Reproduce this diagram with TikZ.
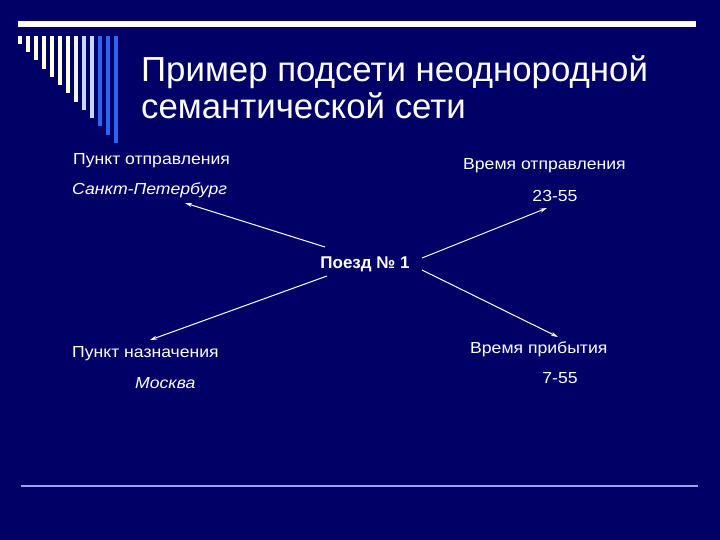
\documentclass[tikz,border=0pt]{standalone}
\usepackage{fontspec}
\setmainfont{Liberation Sans}
\newfontfamily\widesans[FakeStretch=1.1]{Liberation Sans}
\usepackage{tikz}
\usetikzlibrary{arrows.meta, positioning}
\definecolor{mynavy}{RGB}{0, 0, 102}
\definecolor{mycream}{RGB}{255, 255, 225}
\definecolor{mywhite}{RGB}{240, 244, 255}
\definecolor{mypale}{RGB}{200, 215, 255}
\definecolor{myblue}{RGB}{45, 100, 240}
\definecolor{mylilac}{RGB}{160, 160, 240}

\begin{document}
\begin{tikzpicture}[x=1pt, y=-1pt,
    label/.style={text=white, inner sep=0pt, font=\widesans\fontsize{16}{19}\selectfont},
    link/.style={white, line width=1pt, -{Stealth[length=7pt, width=4pt]}}]
    % фон слайда
    \fill[mynavy] (0,0) rectangle (720,540);
    \useasboundingbox (0,0) rectangle (720,540);

    % полосы в углу
    \fill[white] (18,21) rectangle (696,27);
    \foreach \i/\c in {0/mycream, 1/mycream, 2/mycream, 3/mycream, 4/mycream, 5/mycream, 6/mycream,
                       7/mywhite, 8/mypale, 9/mypale, 10/myblue, 11/myblue, 12/myblue}
        \fill[\c] (18+8*\i, 36) rectangle (21.5+8*\i, 44+8.25*\i);

    % заголовок
    \node[anchor=base west, text=white, inner sep=0pt, font=\fontsize{34.8}{38}\selectfont] (title) at (141,82) {Пример подсети неоднородной};
    \node[anchor=base west, text=white, inner sep=0pt, font=\fontsize{34.8}{38}\selectfont] (title2) at (141,119) {семантической сети};

    % центральный узел
    \node[anchor=base, text=white, inner sep=0pt, font=\fontsize{17}{20}\selectfont\bfseries] (train) at (365,268) {Поезд № 1};

    % пункт отправления
    \node[label, anchor=base west] (from) at (73,165) {Пункт отправления};
    \node[label, anchor=base west, font=\widesans\fontsize{16}{19}\selectfont\itshape] (spb) at (72,195) {Санкт-Петербург};

    % время отправления
    \node[label, anchor=base west] (deptime) at (463,170) {Время отправления};
    \node[label, anchor=base] (dep) at (555,202) {23-55};

    % пункт назначения
    \node[label, anchor=base west] (to) at (72,357.5) {Пункт назначения};
    \node[label, anchor=base west, font=\widesans\fontsize{16}{19}\selectfont\itshape] (msk) at (135,388) {Москва};

    % время прибытия
    \node[label, anchor=base west] (arrtime) at (470,353) {Время прибытия};
    \node[label, anchor=base] (arr) at (560,383) {7-55};

    % связи
    \draw[link] ([shift={(-40,-21)}]train.base) -- ([shift={(113,8)}]spb.base west);
    \draw[link] ([shift={(57,-10)}]train.base) -- ([shift={(-8,6)}]dep.base);
    \draw[link] ([shift={(57,2)}]train.base) -- ([shift={(88,-16)}]arrtime.base west);
    \draw[link] ([shift={(-38,8)}]train.base) -- ([shift={(78,-17.5)}]to.base west);

    % нижняя линия
    \draw[mylilac, line width=2pt] (21,486) -- (698,486);
\end{tikzpicture}
\end{document}
